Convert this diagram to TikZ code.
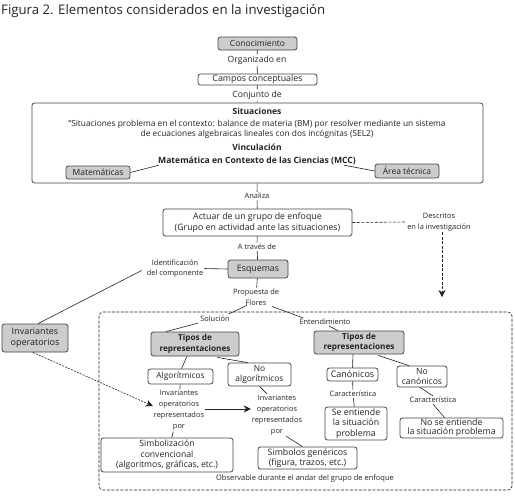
\documentclass[tikz,border=0pt]{standalone}
\usepackage{fontspec}
\setmainfont{Open Sans}
\usetikzlibrary{arrows.meta,calc}
\definecolor{ink}{HTML}{222222}
\definecolor{edge}{HTML}{444444}
\definecolor{boxgray}{HTML}{CDCDCD}
\tikzset{
  bx/.style={draw=edge, line width=0.8pt, rounded corners=2.5pt, inner sep=0pt, align=center, text=ink, font=\fontsize{8.8}{10.5}\selectfont},
  gbx/.style={bx, fill=boxgray},
  wbx/.style={bx, fill=white},
  lbl/.style={inner sep=1pt, align=center, text=ink, font=\fontsize{7.4}{10.8}\selectfont},
  mlbl/.style={inner sep=1pt, align=center, text=ink, font=\fontsize{8.6}{10}\selectfont},
  ln/.style={draw=ink, line width=0.6pt},
  dln/.style={draw=ink, line width=0.6pt, dash pattern=on 3pt off 1.5pt},
  tip/.style={-{Stealth[length=7pt,width=7pt]}}
}
\begin{document}
\begin{tikzpicture}[x=1pt,y=-1pt]
\useasboundingbox (0,0) rectangle (515,499);
\node[anchor=west, inner sep=0pt, text=ink, font=\fontsize{13.2}{15}\selectfont] (title) at (1,11) {Figura 2. Elementos considerados en la investigación};

\node[gbx, minimum width=79pt, minimum height=13pt, font=\fontsize{8.5}{10}\selectfont] (con) at (257.5,43.5) {Conocimiento};
\node[mlbl] (org) at (257,60) {Organizado en};
\node[wbx, minimum width=119pt, minimum height=11pt] (cam) at (257.5,79.5) {Campos conceptuales};
\node[mlbl] (conj) at (257,95) {Conjunto de};
\node[wbx, minimum width=451pt, minimum height=80pt] (sit) at (257.5,143) {};
\node[inner sep=0pt, text=ink, font=\bfseries\fontsize{8.5}{10}\selectfont] (sitt) at (257,111) {Situaciones};
\node[inner sep=0pt, text=ink, align=center, font=\fontsize{8.35}{10}\selectfont] (sitd) at (257,129) {“Situaciones problema en el contexto: balance de materia (BM) por resolver mediante un sistema\\de ecuaciones algebraicas lineales con dos incógnitas (SEL2)};
\node[inner sep=0pt, text=ink, font=\bfseries\fontsize{8.5}{10}\selectfont] (vin) at (257,147) {Vinculación};
\node[inner sep=0pt, text=ink, font=\bfseries\fontsize{8.6}{10}\selectfont] (mcc) at (257,161) {Matemática en Contexto de las Ciencias (MCC)};
\node[gbx, minimum width=64pt, minimum height=13pt, font=\fontsize{8.5}{10}\selectfont] (mat) at (98,172.5) {Matemáticas};
\node[gbx, minimum width=64pt, minimum height=14pt, font=\fontsize{8.5}{10}\selectfont] (are) at (407,171) {Área técnica};

\draw[ln] (con) -- (org) -- (cam) -- (conj) -- (sit);
\draw[ln] (mat.east) -- ($(mcc.south west)+(1,0)$);
\draw[ln] (are.west) -- ($(mcc.south east)+(-12,0)$);

\node[lbl] (ana) at (257,196) {Analiza};
\node[wbx, minimum width=189pt, minimum height=27pt] (act) at (257.5,222.5) {Actuar de un grupo de enfoque\\(Grupo en actividad ante las situaciones)};
\node[lbl] (des) at (439,222) {Descritos\\en la investigación};
\coordinate (dtip) at (442,297);
\draw[ln] (sit) -- (ana) -- (act);
\draw[dln] (act.east) -- (des.west);
\draw[dln, tip] (des.south -| dtip) -- (dtip);

\node[lbl] (tra) at (257,247) {A través de};
\node[gbx, minimum width=60pt, minimum height=18pt, font=\fontsize{8.8}{11}\selectfont] (esq) at (258,269) {Esquemas};
\node[lbl] (ide) at (175,268.5) {Identificación\\del componente};
\node[gbx, minimum width=66pt, minimum height=28pt, font=\fontsize{9}{10.5}\selectfont] (inv) at (35,338) {Invariantes\\operatorios};
\draw[ln] (act) -- (tra) -- (esq);
\draw[ln] (esq.west) -- (ide.east);
\draw[ln] ($(ide.west)+(-4,2)$) -- ($(inv.north)+(3,0)$);

\node[lbl] (pro) at (256,297) {Propuesta de\\Flores};
\draw[ln] (esq) -- (pro);
\node[lbl] (sol) at (215,319) {Solución};
\node[lbl] (ent) at (325,322) {Entendimiento};

\draw[dln, rounded corners=4pt] (99,312) rectangle (512,490);

\draw[ln] ($(pro.south)+(-9,-1)$) -- ($(sol.north east)+(-2,-1)$);
\draw[ln] ($(pro.south)+(16,0)$) -- ($(ent.north west)+(5,0)$);

\node[gbx, minimum width=88pt, minimum height=24pt, font=\bfseries\fontsize{8.2}{10.5}\selectfont] (tp1) at (195,344) {Tipos de\\representaciones};
\node[gbx, minimum width=90pt, minimum height=23pt, font=\bfseries\fontsize{8.2}{10.5}\selectfont] (tp2) at (359,342.5) {Tipos de\\representaciones};
\draw[ln] ($(sol.south west)+(-1,0)$) -- ($(tp1.north)+(-29,0)$);
\draw[ln] ($(ent.south)+(4,0)$) -- ($(tp2.north)+(-21,0)$);

\node[wbx, minimum width=65pt, minimum height=15pt, font=\fontsize{8.3}{10}\selectfont] (alg) at (180.5,376.5) {Algorítmicos};
\node[wbx, minimum width=63pt, minimum height=23pt, font=\fontsize{8.4}{9.5}\selectfont] (nal) at (259.5,374.5) {No\\algorítmicos};
\node[wbx, minimum width=51pt, minimum height=13pt, font=\fontsize{9}{10}\selectfont] (can) at (352.5,374.5) {Canónicos};
\node[wbx, minimum width=50pt, minimum height=21pt, font=\fontsize{8.6}{9.5}\selectfont] (nca) at (422,376.5) {No\\canónicos};
\draw[ln] ($(tp1.south)+(-8,0)$) -- ($(alg.north)+(1,0)$);
\draw[ln] ($(tp1.south east)+(-22,1)$) -- ($(nal.north)+(-12,0)$);
\draw[ln] ($(tp2.south)+(-6,0)$) -- ($(can.north)+(0,0)$);
\draw[ln] ($(tp2.south east)+(-26,1)$) -- ($(nca.north)+(-13,0)$);

\node[lbl] (ca1) at (353,394) {Característica};
\node[wbx, minimum width=62pt, minimum height=33pt, font=\fontsize{8.8}{10.5}\selectfont] (se) at (356,423.5) {Se entiende\\la situación\\problema};
\draw[ln] (can) -- (ca1) -- (se);
\node[lbl] (ca2) at (433,400) {Característica};
\node[wbx, minimum width=103pt, minimum height=20pt, font=\fontsize{8.8}{9.3}\selectfont] (nse) at (451.5,428) {No se entiende\\la situación problema};
\draw[ln] ($(nca.south)+(-2,0)$) -- (ca2.north);
\draw[ln] (ca2.south) -- ($(nse.north)+(-7,0)$);

\node[lbl, font=\fontsize{7.4}{10.9}\selectfont] (iv1) at (179,410.5) {Invariantes\\operatorios\\representados\\por};
\node[lbl, font=\fontsize{7.4}{10.9}\selectfont] (iv2) at (277,415) {Invariantes\\operatorios\\representados\\por};
\draw[ln] (alg) -- (iv1);
\draw[ln] ($(nal.south)+(0,0)$) -- ($(iv2.north)+(-10,0)$);
\draw[ln, tip] (iv1.east |- 0,409) -- (iv2.west |- 0,409);
\draw[dln, dash pattern=on 2pt off 1.2pt, tip] ($(inv.south)+(-2,0)$) -- (iv1.west |- 0,406);

\node[wbx, minimum width=132pt, minimum height=34pt, font=\fontsize{8.6}{10.5}\selectfont] (sim) at (167,455) {Simbolización\\convencional\\(algoritmos, gráficas, etc.)};
\node[wbx, minimum width=99pt, minimum height=22pt, font=\fontsize{8.8}{10}\selectfont] (gen) at (307.5,458) {Simbolos genéricos\\(figura, trazos, etc.)};
\draw[ln] (iv1) -- (sim);
\draw[ln] ($(iv2.south)+(9,0)$) -- ($(gen.north)+(-5,0)$);
\node[mlbl, font=\fontsize{7.5}{9}\selectfont] (obs) at (305,479) {Observable durante el andar del grupo de enfoque};
\end{tikzpicture}
\end{document}
